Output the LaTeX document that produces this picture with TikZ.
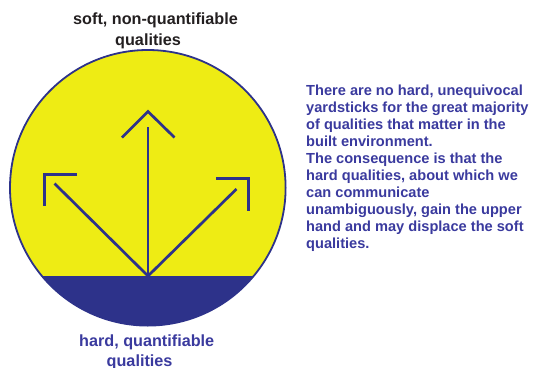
\documentclass[tikz,border=0pt]{standalone}
\usepackage{fontspec}
\setmainfont{Liberation Sans}
\definecolor{ylw}{RGB}{238,236,20}
\definecolor{dblue}{RGB}{45,50,138}
\definecolor{tblue}{RGB}{58,58,158}
\definecolor{tdark}{RGB}{35,31,32}
\begin{document}
\begin{tikzpicture}[x=1pt,y=-1pt,
  lbl/.style={inner sep=0pt,anchor=base,font=\fontsize{16.2}{19}\selectfont\bfseries},
  arr/.style={draw=dblue,line width=2.7pt},
  para/.style={inner sep=0pt,anchor=north west,align=left,text=tblue,
    font=\fontsize{14.6}{17.1}\selectfont\bfseries}]
\useasboundingbox (0,0) rectangle (533,367);
% circle
\coordinate (c) at (147.8,187.8);
\begin{scope}
  \clip (c) circle[radius=137.8pt];
  \fill[ylw] (c) circle[radius=137.8pt];
  \fill[dblue] (0,276) rectangle (300,340);
\end{scope}
\draw[dblue,line width=1.8pt] (c) circle[radius=137.8pt];
% arrows
\coordinate (o) at (148,276);
\coordinate (up) at (148,127);
\coordinate (ul) at (54.5,183.5);
\coordinate (ur) at (236.5,189);
\draw[arr] (o) -- (up);
\draw[arr] (o) -- (ul);
\draw[arr] (o) -- (ur);
\draw[arr] (122,137.5) -- (148,111.5) -- (174.5,137.5);
\draw[arr] (77,174.2) -- (44.3,174.2) -- (44.3,206);
\draw[arr] (216,178.8) -- (248.3,178.8) -- (248.3,211);
% labels
\node[lbl,text=tdark,anchor=base west] (s1) at (73,24) {soft, non-quantifiable};
\node[lbl,text=tdark,anchor=base west] (s2) at (115,45.8) {qualities};
\node[lbl,text=tblue,anchor=base west] (h1) at (79,346.5) {hard, quantifiable};
\node[lbl,text=tblue,anchor=base west] (h2) at (106.5,366) {qualities};
\node[para] (p) at (306,84.3) {There are no hard, unequivocal\\
yardsticks for the great majority\\
of qualities that matter in the\\
built environment.\\
The consequence is that the\\
hard qualities, about which we\\
can communicate\\
unambiguously, gain the upper\\
hand and may displace the soft\\
qualities.};
\end{tikzpicture}
\end{document}
